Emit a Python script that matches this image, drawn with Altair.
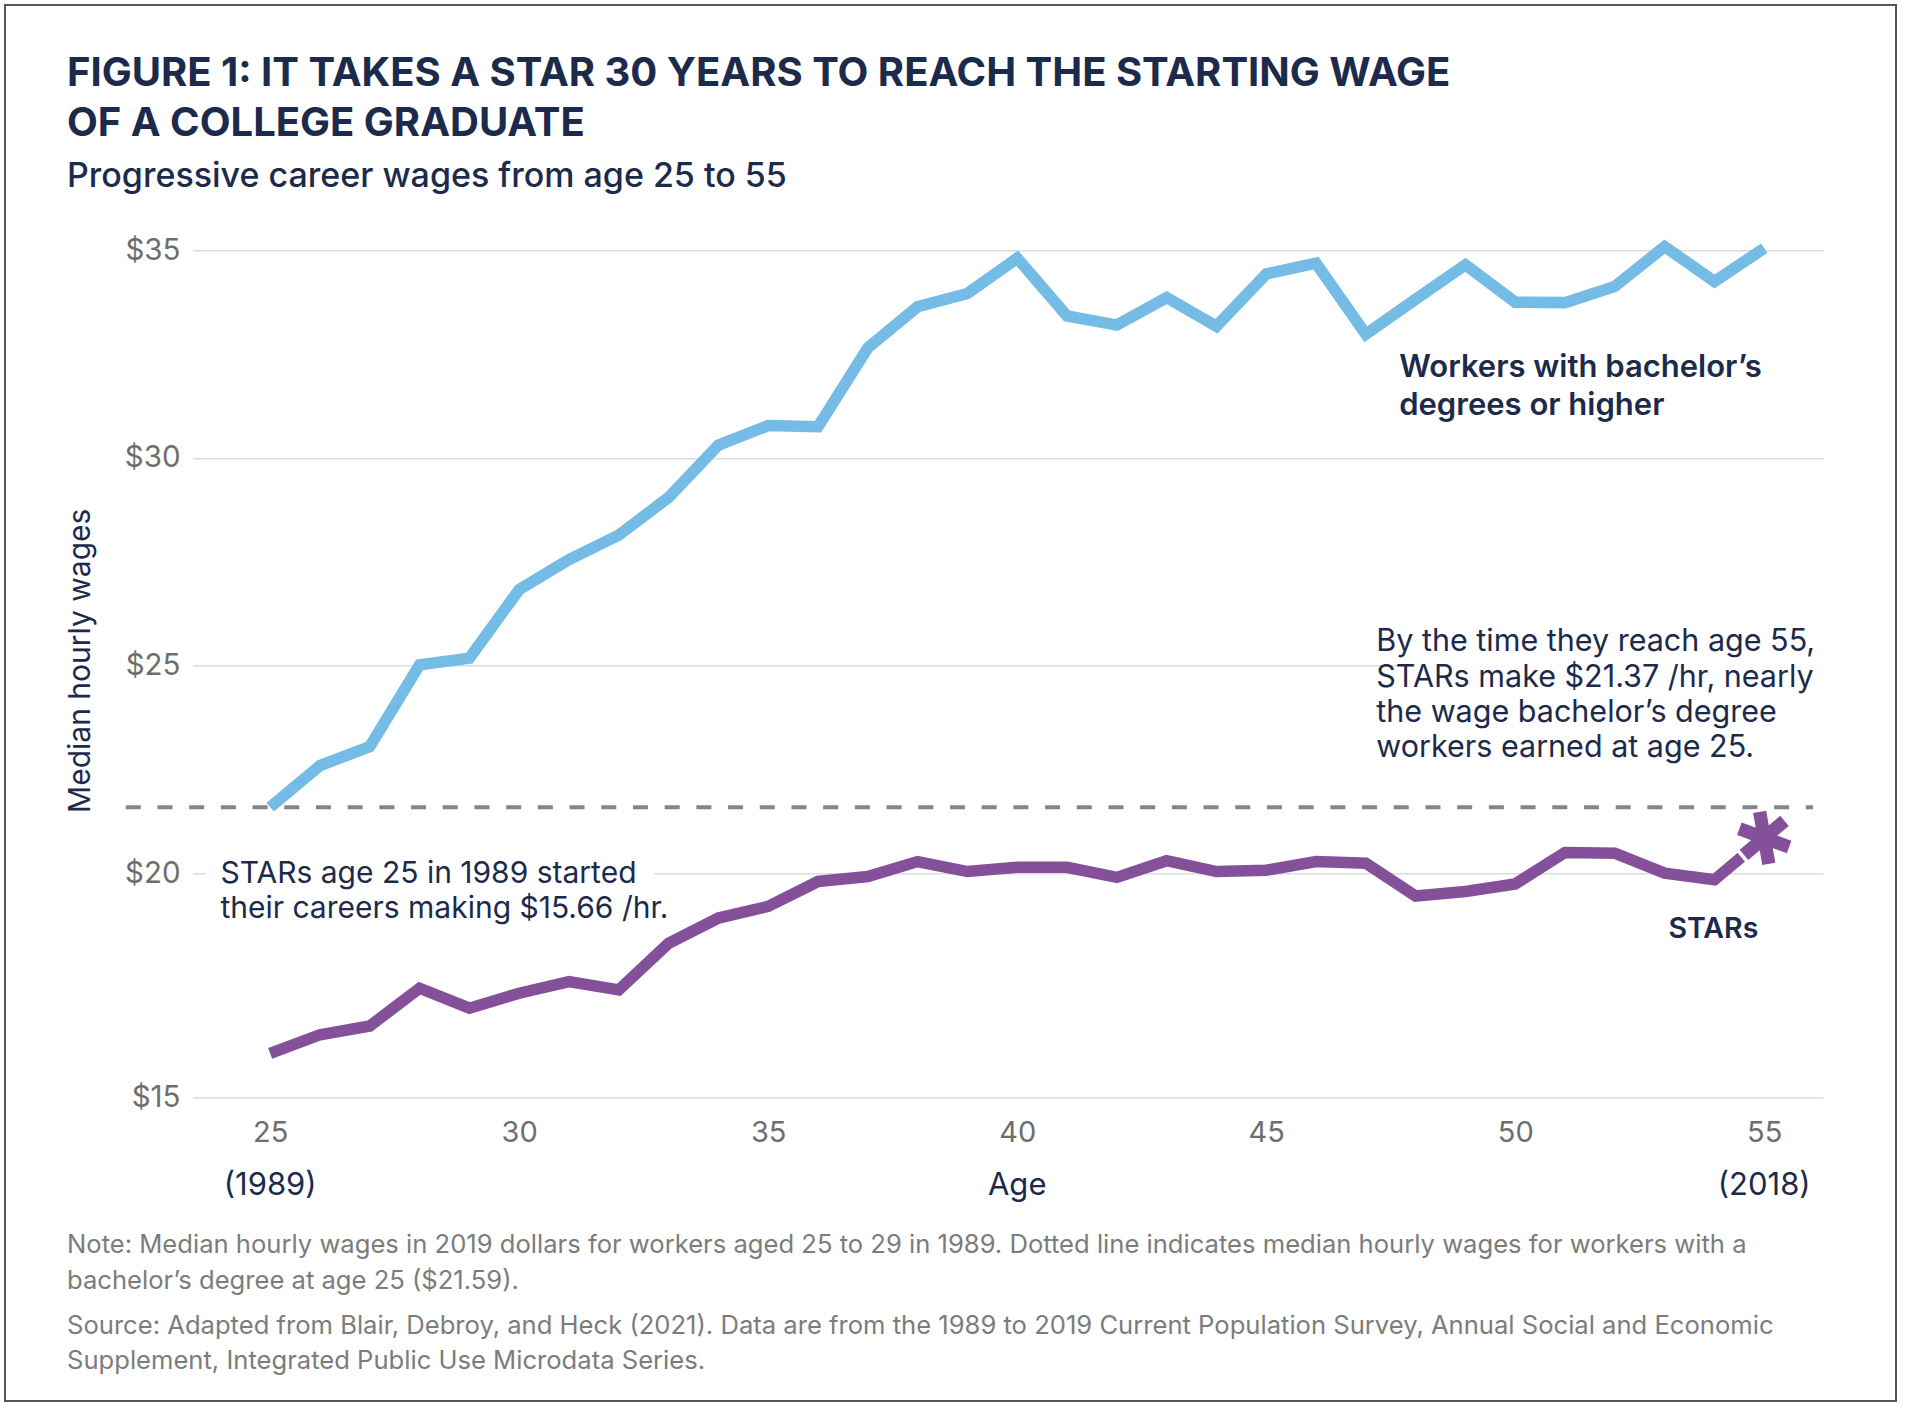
import math
import altair as alt
import pandas as pd

# ---------------- data ----------------
ages = list(range(25, 56))
bachelor = [21.59, 22.59, 23.05, 25.02, 25.18, 26.83, 27.55, 28.14, 29.05, 30.31,
            30.78, 30.75, 32.65, 33.64, 33.96, 34.81, 33.42, 33.20, 33.86, 33.17,
            34.43, 34.69, 32.98, 33.82, 34.65, 33.75, 33.74, 34.13, 35.09, 34.25, 35.05]
stars = [15.66, 16.11, 16.32, 17.23, 16.75, 17.11, 17.39, 17.19, 18.31, 18.92,
         19.20, 19.80, 19.92, 20.28, 20.04, 20.14, 20.14, 19.90, 20.30, 20.04,
         20.07, 20.28, 20.24, 19.45, 19.56, 19.74, 20.50, 20.48, 20.00, 19.84, 20.85]
series_names = ["Workers with bachelor's degrees or higher", "STARs"]
benchmark_wage = 21.59
x_ticks = [25, 30, 35, 40, 45, 50, 55]
y_ticks = [14.61, 20, 25, 30, 35]
year_labels = ["(1989)", "Age", "(2018)"]
year_label_x = [25, 40, 55]

title_lines = ["FIGURE 1: IT TAKES A STAR 30 YEARS TO REACH THE STARTING WAGE",
               "OF A COLLEGE GRADUATE"]
subtitle = "Progressive career wages from age 25 to 55"
y_title = "Median hourly wages"
ann_bachelor = ["Workers with bachelor’s", "degrees or higher"]
ann_right = ["By the time they reach age 55,", "STARs make $21.37 /hr, nearly",
             "the wage bachelor’s degree", "workers earned at age 25."]
ann_left = ["STARs age 25 in 1989 started", "their careers making $15.66 /hr."]
ann_stars = "STARs"
note_lines = ["Note: Median hourly wages in 2019 dollars for workers aged 25 to 29 in 1989. Dotted line indicates median hourly wages for workers with a",
              "bachelor’s degree at age 25 ($21.59)."]
source_lines = ["Source: Adapted from Blair, Debroy, and Heck (2021). Data are from the 1989 to 2019 Current Population Survey, Annual Social and Economic",
                "Supplement, Integrated Public Use Microdata Series."]

# ---------------- style ----------------
FONT = "Inter"
NAVY = "#1c2a4b"
GRAY = "#6e6e6e"
NOTE_GRAY = "#7c7c7c"
BLUE = "#74bbe6"
PURPLE = "#85509a"
W, H = 1630, 846.7
PL, PT = 193, 250.3
XDOM = [23.45, 56.18]
YDOM = [14.61, 35]

xs = alt.Scale(domain=XDOM, nice=False, zero=False)
ys = alt.Scale(domain=YDOM, nice=False, zero=False)

long = pd.DataFrame({
    "age": ages * 2,
    "wage": bachelor + stars,
    "series": [series_names[0]] * len(ages) + [series_names[1]] * len(ages),
})

base = alt.Chart(long)

# frame around the whole figure
frame = alt.Chart(pd.DataFrame({"k": [0]})).mark_rect(
    fill="white", fillOpacity=0, stroke="#555555", strokeWidth=2
).encode(
    x=alt.value(5 - PL), x2=alt.value(1896 - PL),
    y=alt.value(5 - PT), y2=alt.value(1401 - PT),
)

# white masks that interrupt gridlines behind annotation text
masks = pd.DataFrame({"x": [23.7, 47.65], "x2": [32.71, 56.5],
                      "y": [19.8, 24.8], "y2": [20.2, 25.2]})
mask = alt.Chart(masks).mark_rect(fill="white").encode(
    x=alt.X("x:Q", scale=xs), x2="x2:Q",
    y=alt.Y("y:Q", scale=ys), y2="y2:Q",
)

bench = alt.Chart(pd.DataFrame({"x": [22.1], "x2": [55.98], "y": [benchmark_wage]})).mark_rule(
    color="#858585", strokeWidth=4, strokeDash=[15, 16.7]
).encode(x=alt.X("x:Q", scale=xs), x2="x2:Q", y=alt.Y("y:Q", scale=ys))

lines = base.mark_line(strokeWidth=11.5, strokeJoin="miter", strokeMiterLimit=3).encode(
    x=alt.X("age:Q", scale=xs,
            axis=alt.Axis(values=x_ticks, title=None, grid=False, domain=False, ticks=False,
                          tickSize=0, labelFontSize=29, labelColor=GRAY, labelFont=FONT,
                          labelPadding=44.7, labelBaseline="alphabetic", labelFlush=False)),
    y=alt.Y("wage:Q", scale=ys,
            axis=alt.Axis(values=y_ticks, title=y_title, grid=True, gridColor="#dcdcdc",
                          gridWidth=1.5, domain=False, ticks=False, tickSize=0,
                          labelExpr="datum.value < 15 ? '$15' : '$' + datum.value",
                          labelFontSize=29.5, labelColor=GRAY, labelFont=FONT, labelPadding=13,
                          labelBaseline="middle",
                          titleFont=FONT, titleFontSize=30, titleFontWeight="normal",
                          titleColor=NAVY, titleAngle=270, titleX=-113, titleY=410,
                          titleAlign="center", titleBaseline="middle")),
    color=alt.Color("series:N", scale=alt.Scale(domain=series_names, range=[BLUE, PURPLE]),
                    legend=None),
    detail="series:N",
)


def asterisk_path(w=0.25, angles=(100, 40, -20)):
    parts = []
    for a in angles:
        t = math.radians(a)
        dx, dy = math.cos(t), -math.sin(t)
        px, py = -dy * w, dx * w
        pts = [(dx + px, dy + py), (dx - px, dy - py), (-dx - px, -dy - py), (-dx + px, -dy + py)]
        parts.append("M" + " L".join(f"{x:.3f},{y:.3f}" for x, y in pts) + " Z")
    return " ".join(parts)


star_pt = pd.DataFrame({"age": [ages[-1]], "wage": [stars[-1]]})
ast_white = alt.Chart(star_pt).mark_point(
    shape=asterisk_path(), size=2800, filled=True, fill="white", stroke="white",
    strokeWidth=7, opacity=1
).encode(x=alt.X("age:Q", scale=xs), y=alt.Y("wage:Q", scale=ys))
ast = alt.Chart(star_pt).mark_point(
    shape=asterisk_path(), size=2800, filled=True, fill=PURPLE, strokeWidth=0, opacity=1
).encode(x=alt.X("age:Q", scale=xs), y=alt.Y("wage:Q", scale=ys))


def data_text(lines_, x, y, size=28, weight="normal", align="left", lh=35, color=NAVY):
    return alt.Chart(pd.DataFrame({"x": [x], "y": [y]})).mark_text(
        text=lines_, font=FONT, fontSize=size, fontWeight=weight, color=color,
        align=align, baseline="alphabetic", lineHeight=lh
    ).encode(x=alt.X("x:Q", scale=xs), y=alt.Y("y:Q", scale=ys))


def px_text(lines_, x, y, size=28, weight="normal", align="left", lh=35, color=NAVY):
    return alt.Chart(pd.DataFrame({"k": [0]})).mark_text(
        text=lines_, font=FONT, fontSize=size, fontWeight=weight, color=color,
        align=align, baseline="alphabetic", lineHeight=lh
    ).encode(x=alt.value(x - PL), y=alt.value(y - PT))


t_bach = data_text(ann_bachelor, 47.67, 31.96, size=31, weight=600, lh=38.3)
t_right = data_text(ann_right, 47.21, 25.34, size=30.5, lh=35.2)
t_left = data_text(ann_left, 24.0, 19.77, size=30, lh=35.6)
t_stars = data_text([ann_stars], 53.98, 18.43, size=28.5, weight=600, align="center")

yl = alt.Chart(pd.DataFrame({"x": year_label_x, "t": year_labels})).mark_text(
    font=FONT, fontSize=31, color=NAVY, align="center", baseline="alphabetic"
).encode(x=alt.X("x:Q", scale=xs), y=alt.value(1195 - PT), text="t:N")

t_title = px_text(title_lines, 67, 86, size=40, weight=700, lh=50)
t_sub = px_text([subtitle], 67, 187, size=34, weight=500)
t_note = px_text(note_lines, 67, 1253, size=25.6, color=NOTE_GRAY, lh=35.5)
t_src = px_text(source_lines, 67, 1334, size=25.6, color=NOTE_GRAY, lh=34.5)

chart = alt.layer(
    frame, mask, bench, lines, ast_white, ast,
    t_bach, t_right, t_left, t_stars, yl, t_title, t_sub, t_note, t_src
).properties(
    width=W, height=H, autosize="none",
    padding={"left": PL, "top": PT, "right": 1908 - PL - W, "bottom": 1408 - PT - H},
    background="white",
).configure_view(stroke=None)

chart.save("out.html", embed_options={"renderer": "svg", "actions": False})
